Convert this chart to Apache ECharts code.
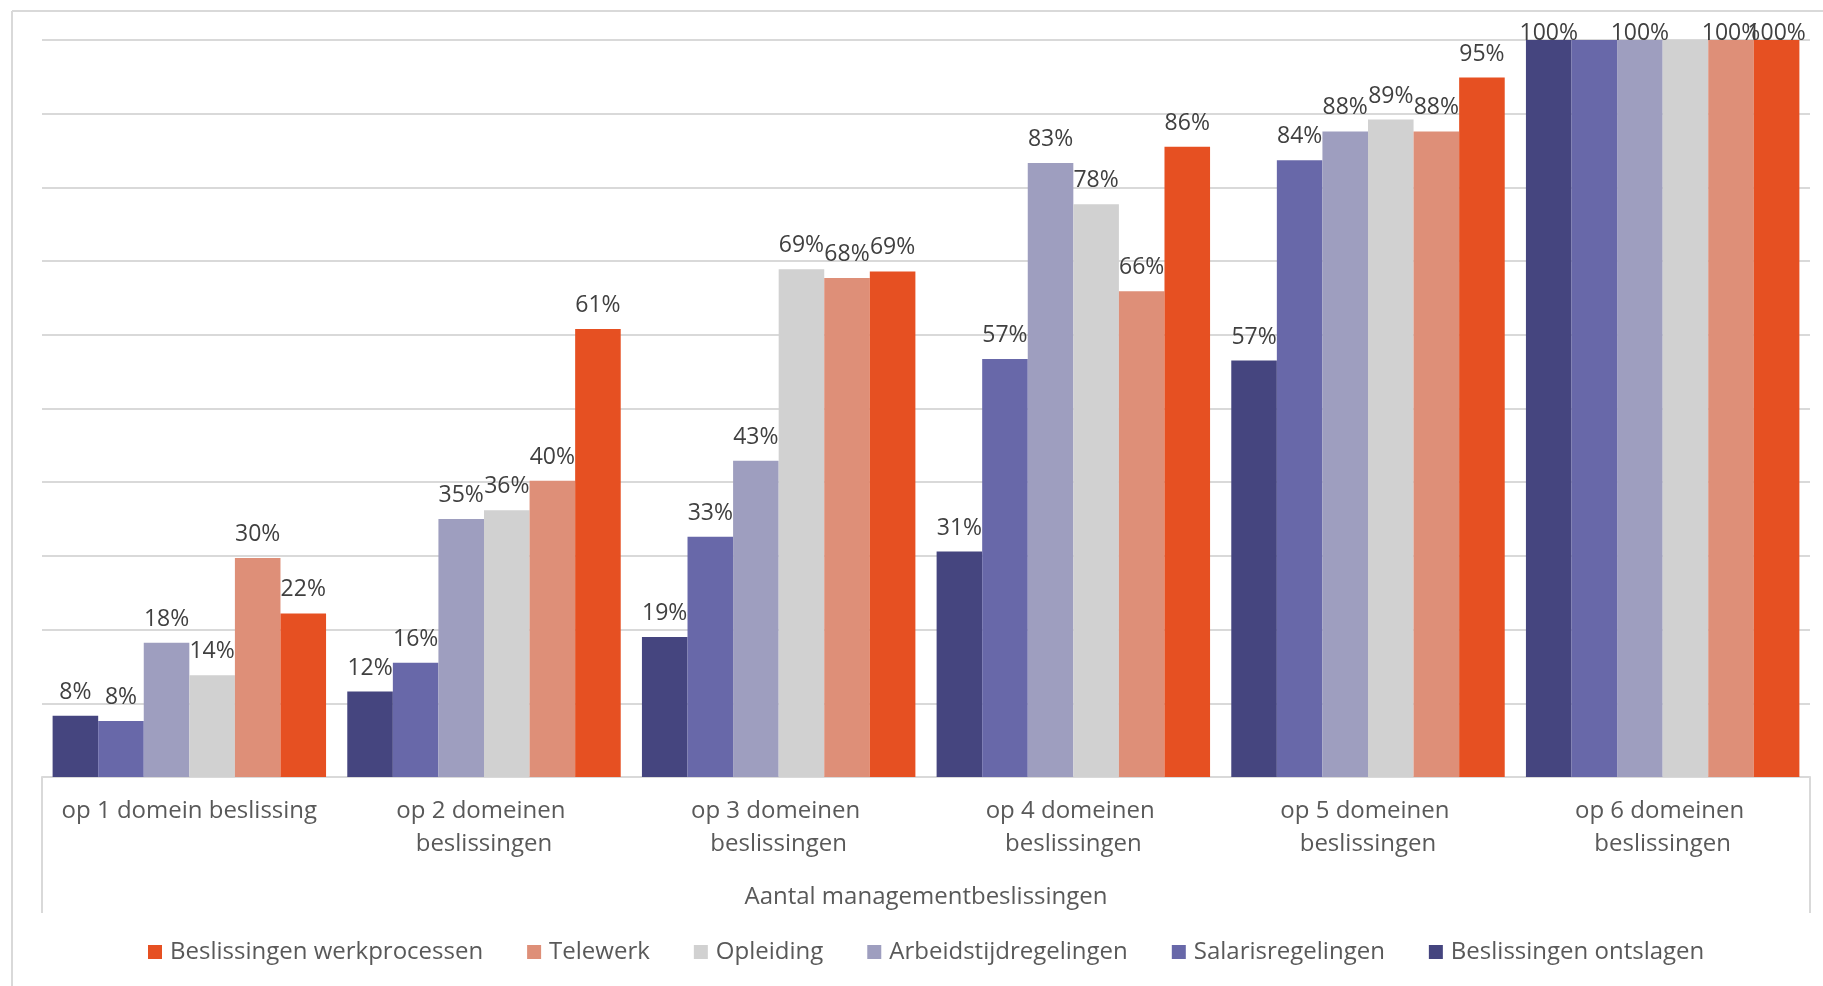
<!DOCTYPE html>
<html>
<head>
<meta charset="utf-8">
<script src="https://cdn.jsdelivr.net/npm/echarts@6/dist/echarts.min.js"></script>
<style>
html,body{margin:0;padding:0;background:#fff;}
#chart{width:1823px;height:986px;}
</style>
</head>
<body>
<div id="chart"></div>
<script>
const categories = ['op 1 domein beslissing','op 2 domeinen beslissingen','op 3 domeinen beslissingen','op 4 domeinen beslissingen','op 5 domeinen beslissingen','op 6 domeinen beslissingen'];
const ontslagen   = [8.3, 11.6, 19.0, 30.6, 56.5, 100];
const salaris     = [7.6, 15.5, 32.6, 56.7, 83.7, 100];
const arbeidstijd = [18.2, 35.0, 42.9, 83.3, 87.6, 100];
const opleiding   = [13.8, 36.2, 68.9, 77.7, 89.2, 100];
const telewerk    = [29.7, 40.2, 67.7, 65.9, 87.6, 100];
const werkproces  = [22.2, 60.8, 68.6, 85.5, 94.9, 100];
const seriesNames = ['Beslissingen ontslagen','Salarisregelingen','Arbeidstijdregelingen','Opleiding','Telewerk','Beslissingen werkprocessen'];
const legendOrder = ['Beslissingen werkprocessen','Telewerk','Opleiding','Arbeidstijdregelingen','Salarisregelingen','Beslissingen ontslagen'];
// data labels not shown in the original: [seriesIndex, categoryIndex]
const hiddenLabels = [[1, 5], [3, 5]];
const colors = ['#45457F','#6868A9','#9E9EBF','#D1D1D1','#DE8F78','#E65022'];
const axisName = 'Aantal managementbeslissingen';

const FONT = '"Open Sans", "Noto Sans", sans-serif';
const G = {left: 42, right: 13, top: 40, bottom: 209};
const W = 1823, H = 986;
const axisY = H - G.bottom;
const values = [ontslagen, salaris, arbeidstijd, opleiding, telewerk, werkproces];

function seriesData(i) {
  return values[i].map((v, j) => {
    const hidden = hiddenLabels.some(h => h[0] === i && h[1] === j);
    if (hidden) return {value: v, label: {show: false}};
    if (v >= 100) return {value: v, label: {distance: -5}}; // clamped inside chart area
    return v;
  });
}

const chart = echarts.init(document.getElementById('chart'));
chart.setOption({
  animation: false,
  backgroundColor: '#fff',
  textStyle: {fontFamily: FONT},
  grid: G,
  legend: {
    data: legendOrder,
    bottom: 17,
    left: 143,
    itemWidth: 14, itemHeight: 14,
    itemGap: 44,
    icon: 'rect',
    textStyle: {fontFamily: FONT, fontSize: 24, color: '#595959', padding: [0, 0, 0, 3]}
  },
  xAxis: {
    type: 'category',
    data: categories,
    axisLine: {lineStyle: {color: '#D9D9D9', width: 2}},
    axisTick: {show: false},
    axisLabel: {
      fontFamily: FONT, fontSize: 24, color: '#595959',
      margin: 18, lineHeight: 33, width: 290, overflow: 'break', interval: 0
    },
    name: axisName,
    nameLocation: 'middle',
    nameGap: 105,
    nameTextStyle: {fontFamily: FONT, fontSize: 24, color: '#595959', lineHeight: 30}
  },
  yAxis: {
    type: 'value', min: 0, max: 100, interval: 10,
    axisLabel: {show: false},
    axisLine: {show: false},
    axisTick: {show: false},
    splitLine: {lineStyle: {color: '#D9D9D9', width: 2}}
  },
  series: seriesNames.map((n, i) => ({
    name: n,
    type: 'bar',
    data: seriesData(i),
    barGap: '0%',
    barCategoryGap: '7.2%',
    itemStyle: {color: colors[i]},
    label: {
      show: true, position: 'top', distance: 12,
      fontFamily: FONT, fontSize: 23, color: '#404040',
      formatter: p => Math.round(p.value) + '%'
    }
  })),
  graphic: [
    {type: 'line', shape: {x1: 12, y1: 11, x2: W, y2: 11}, style: {stroke: '#D9D9D9', lineWidth: 2}},
    {type: 'line', shape: {x1: 12, y1: 11, x2: 12, y2: H}, style: {stroke: '#D9D9D9', lineWidth: 2}},
    {type: 'line', shape: {x1: G.left, y1: axisY, x2: G.left, y2: 913}, style: {stroke: '#D9D9D9', lineWidth: 2}},
    {type: 'line', shape: {x1: W - G.right, y1: axisY, x2: W - G.right, y2: 913}, style: {stroke: '#D9D9D9', lineWidth: 2}}
  ]
});
</script>
</body>
</html>
